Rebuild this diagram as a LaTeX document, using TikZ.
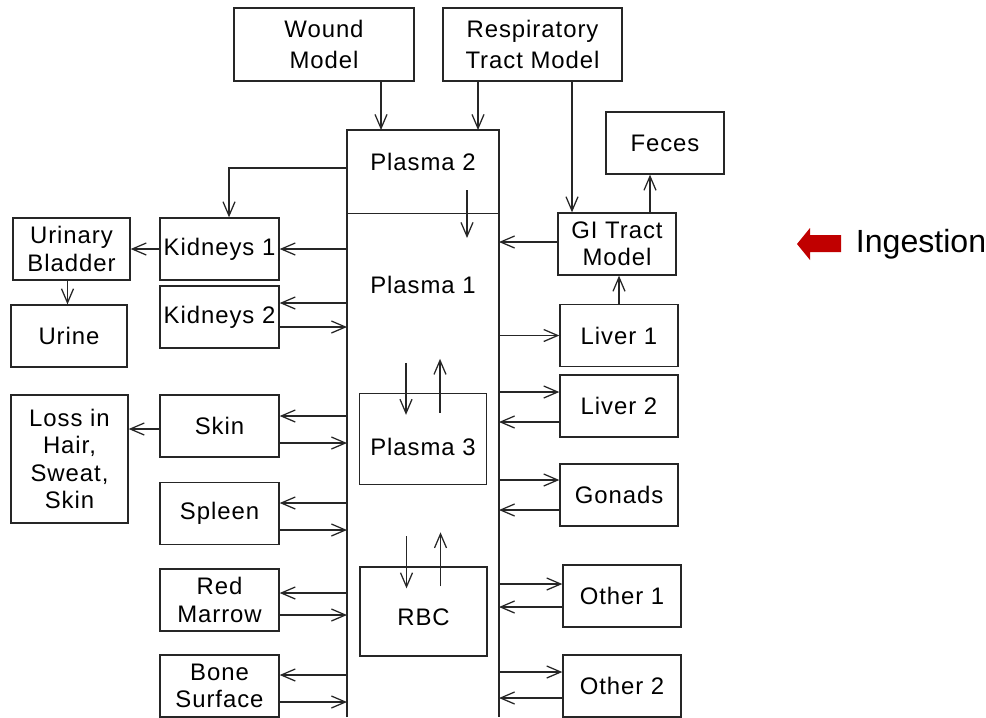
\documentclass[tikz,border=0pt]{standalone}
\usepackage{fontspec}
\setmainfont{Liberation Sans}
\newfontfamily\diagfont[LetterSpace=4]{Liberation Sans}
\usetikzlibrary{arrows.meta,calc}
\definecolor{ink}{HTML}{262626}
\definecolor{ingred}{HTML}{C00000}

\begin{document}
\begin{tikzpicture}[x=0.025cm, y=-0.025cm,
  font=\diagfont\fontsize{17}{19.5}\selectfont,
  box/.style={draw=ink, line width=0.95pt, minimum width=119*\px, minimum height=62*\px,
              align=center, inner sep=1pt, text=black},
  topbox/.style={box, minimum width=180*\px, minimum height=73*\px},
  arr/.style={draw=ink, line width=0.9pt, -{Straight Barb[length=3.5mm,width=3mm]}}]
\def\px{0.025cm}
\useasboundingbox (0,0) rectangle (986,717);
% ---------------- sources on top
\node[topbox] (wound) at (324,44.5) {Wound\\[2pt]Model};
\node[topbox, minimum width=179*\px] (resp) at (532.5,44.5) {Respiratory\\[2pt]Tract Model};
% ---------------- plasma column
\node[minimum width=152*\px, minimum height=587*\px, inner sep=0, outer sep=0] (blood) at (423,423.5) {};
\draw[ink, line width=0.95pt] (blood.south west) -- (blood.north west) -- (blood.north east) -- (blood.south east);
\draw[ink, line width=0.7pt] ([shift={(0,83)}]blood.north west) -- ([shift={(0,83)}]blood.north east);
\node (plasma2) at (423,162) {Plasma 2};
\node (plasma1) at (423,285) {Plasma 1};
\node[box, minimum width=127*\px, minimum height=91*\px] (plasma3) at (423,439) {\raisebox{-0.2cm}[\height][\depth]{Plasma 3}};
\node[box, minimum width=127*\px, minimum height=89*\px] (rbc) at (423.5,611.5) {\raisebox{-0.15cm}[\height][\depth]{RBC}};
% ---------------- organs on the left
\node[box] (kid1) at (219.5,249) {Kidneys 1};
\node[box] (kid2) at (219.5,317) {Kidneys 2};
\node[box] (skin) at (219.5,426) {Skin};
\node[box] (spleen) at (219.5,513.5) {Spleen};
\node[box] (marrow) at (219.5,600) {Red\\Marrow};
\node[box] (bone) at (219.5,686) {Bone\\Surface};
\node[box, minimum width=117*\px] (bladder) at (71.5,249) {Urinary\\Bladder};
\node[box, minimum width=116*\px] (urine) at (69,336) {Urine};
\node[box, minimum width=117*\px, minimum height=128*\px] (loss) at (69.5,459) {Loss in\\Hair,\\Sweat,\\Skin};
% ---------------- organs on the right
\node[box, minimum width=118*\px] (gi) at (617,244) {GI Tract\\Model};
\node[box, minimum width=118*\px] (feces) at (665,143) {Feces};
\node[box, minimum width=118*\px] (liver1) at (619,335.5) {Liver 1};
\node[box, minimum width=118*\px] (liver2) at (619,406) {Liver 2};
\node[box, minimum width=118*\px] (gonads) at (619,495) {Gonads};
\node[box, minimum width=118*\px] (other1) at (622,596) {Other 1};
\node[box, minimum width=118*\px] (other2) at (622,686) {Other 2};
% ---------------- ingestion marker
\fill[ingred] (797,244) -- (810,228) -- (810,235) -- (841,235) -- (841,252) -- (810,252) -- (810,260) -- cycle;
\node[anchor=west, font=\normalfont\fontsize{22.8}{27}\selectfont] (ingestion) at (851,244) {Ingestion};
% ---------------- inputs into plasma 2
\draw[arr] ([shift={(57,0)}]wound.south) -- ([shift={(57,0)}]wound.south |- blood.north);
\draw[arr] ([shift={(-54.5,0)}]resp.south) -- ([shift={(-54.5,0)}]resp.south |- blood.north);
\draw[arr] ([shift={(39.5,0)}]resp.south) -- ([shift={(39.5,0)}]resp.south |- gi.north);
\draw[arr] ([shift={(44,28)}]plasma2.center) -- ([shift={(44,76)}]plasma2.center);
\draw[arr] ([shift={(0,6)}]blood.west |- plasma2) -| ([shift={(9.5,0)}]kid1.north);
% ---------------- excretion on the left
\draw[arr] (blood.west |- kid1.east) -- (kid1.east);
\draw[arr] (kid1.west) -- (bladder.east);
\draw[arr] ([shift={(-4,0)}]bladder.south) -- ([shift={(-4,0)}]bladder.south |- urine.north);
\draw[arr] ([shift={(0,3)}]skin.west) -- ([shift={(0,3)}]skin.west -| loss.east);
\foreach \o/\a/\b in {kid2/-14/10, skin/-10/17, spleen/-10.5/16.5, marrow/-7/15, bone/-11/16} {
  \draw[arr] ([shift={(0,\a)}]\o.east -| blood.west) -- ([shift={(0,\a)}]\o.east);
  \draw[arr] ([shift={(0,\b)}]\o.east) -- ([shift={(0,\b)}]\o.east -| blood.west);
}
% ---------------- exchange on the right
\draw[arr] (blood.east |- liver1.west) -- (liver1.west);
\foreach \o/\a/\b in {liver2/-14/16, gonads/-15/15, other1/-12/11, other2/-14/12} {
  \draw[arr] ([shift={(0,\a)}]\o.west -| blood.east) -- ([shift={(0,\a)}]\o.west);
  \draw[arr] ([shift={(0,\b)}]\o.west) -- ([shift={(0,\b)}]\o.west -| blood.east);
}
\draw[arr] ([shift={(0,-2)}]gi.west) -- ([shift={(0,-2)}]gi.west -| blood.east);
\draw[arr] ([shift={(33,0)}]gi.north) -- ([shift={(33,0)}]gi.north |- feces.south);
\draw[arr] (liver1.north) -- (liver1.north |- gi.south);
% ---------------- plasma 3 and RBC
\foreach \c in {plasma3, rbc} {
  \draw[arr] ([shift={(-17,-30)}]\c.north) -- ([shift={(-17,22)}]\c.north);
  \draw[arr] ([shift={(17,20)}]\c.north) -- ([shift={(17,-34)}]\c.north);
}
\end{tikzpicture}
\end{document}
